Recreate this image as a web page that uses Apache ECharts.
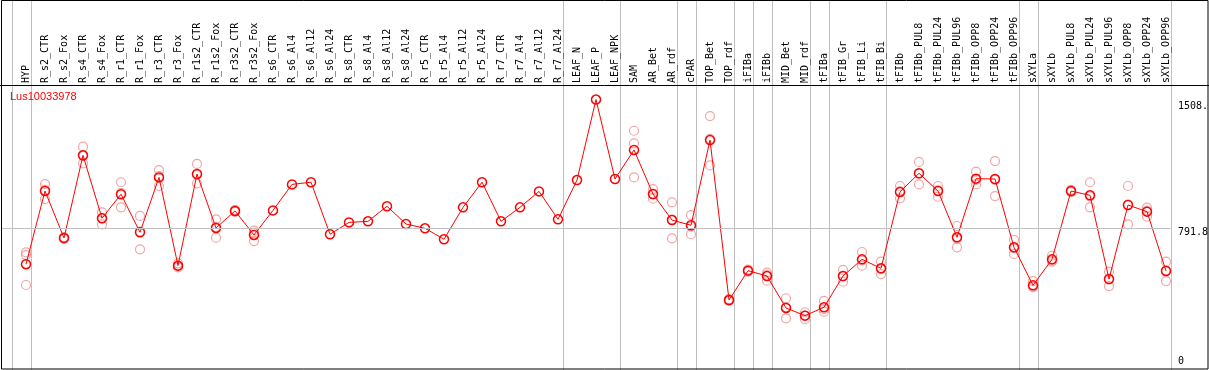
<!DOCTYPE html>
<html><head><meta charset="utf-8">
<script src="https://cdn.jsdelivr.net/npm/echarts@6/dist/echarts.min.js"></script>
<style>html,body{margin:0;padding:0;background:#fff}#c{width:1209px;height:370px}</style>
</head><body><div id="c"></div>
<script>
const geneName = 'Lus10033978';
const categories = ['HYP','R_s2_CTR','R_s2_Fox','R_s4_CTR','R_s4_Fox','R_r1_CTR','R_r1_Fox','R_r3_CTR','R_r3_Fox','R_r1s2_CTR','R_r1s2_Fox','R_r3s2_CTR','R_r3s2_Fox','R_s6_CTR','R_s6_Al4','R_s6_Al12','R_s6_Al24','R_s8_CTR','R_s8_Al4','R_s8_Al12','R_s8_Al24','R_r5_CTR','R_r5_Al4','R_r5_Al12','R_r5_Al24','R_r7_CTR','R_r7_Al4','R_r7_Al12','R_r7_Al24','LEAF_N','LEAF_P','LEAF_NPK','SAM','AR_Bet','AR_rdf','cPAR','TOP_Bet','TOP_rdf','iFIBa','iFIBb','MID_Bet','MID_rdf','tFIBa','tFIB_Gr','tFIB_Li','tFIB_Bi','tFIBb','tFIBb_PUL8','tFIBb_PUL24','tFIBb_PUL96','tFIBb_OPP8','tFIBb_OPP24','tFIBb_OPP96','sXYLa','sXYLb','sXYLb_PUL8','sXYLb_PUL24','sXYLb_PUL96','sXYLb_OPP8','sXYLb_OPP24','sXYLb_OPP96'];
const means = [590,998,736,1197,846,980,768,1074,582,1093,792,887,753,890,1035,1047,757,823,829,913,814,790,729,907,1047,829,907,996,840,1059,1508,1065,1227,981,836,807,1282,390,554,524,346,303,350,524,617,567,993,1097,998,740,1067,1065,684,472,617,998,974,507,920,883,552];
const rep1 = [656,1037,741,1245,879,1047,859,1115,595,1149,840,893,777,null,null,null,null,null,null,null,null,null,null,null,null,null,null,null,null,null,null,null,1334,1009,935,864,1416,395,560,543,400,322,385,558,658,604,1026,1160,1026,803,1106,1165,725,496,637,1004,1047,548,1026,905,604];
const rep2 = [641,953,731,1152,812,907,673,1026,572,1041,738,881,719,null,null,null,null,null,null,null,null,null,null,null,null,null,null,null,null,null,null,null,1264,955,734,757,1141,385,548,498,288,283,325,492,582,535,957,1035,966,684,1035,970,647,465,604,992,907,468,812,855,496];
const rep3 = [474,1004,736,1194,847,986,772,1081,579,1089,798,887,763,null,null,null,null,null,null,null,null,null,null,null,null,null,null,null,null,null,null,null,1074,979,839,800,1289,390,554,531,350,304,340,522,611,562,996,1096,1002,733,1060,1060,680,462,610,998,968,505,922,889,556];
const groupBreaksAfter = [-1,0,28,31,34,35,37,38,39,41,42,45,52,53,60];
const yTickValues = [1508, 791.8, 0];
const yTickLabels = ['1508.', '791.8', '0'];
const yMax = 1583.6;
const gridLine = 791.8;

// layout
const SLOT = 19, FIRST_X = 26, LEFT = 1, WIDTH = 1207;
const xMin = -(FIRST_X - LEFT) / SLOT;
const xMax = xMin + WIDTH / SLOT;
const breakOffset = 0.24;
const labelDy = [7, 4, -8.5];

const repData = [];
[rep1, rep2, rep3].forEach(r => r.forEach((v, i) => { if (v != null) repData.push([i, v]); }));
const meanData = means.map((v, i) => [i, v]);

const chart = echarts.init(document.getElementById('c'), null, {renderer: 'canvas'});
const grey = '#c0c0c0';
const lastBreak = groupBreaksAfter[groupBreaksAfter.length - 1] + breakOffset;
chart.setOption({
  animation: false,
  backgroundColor: '#fff',
  title: {text: geneName, left: 10, top: 91, padding: 0, textStyle: {color: '#ff0000', fontSize: 11, fontWeight: 'normal', fontFamily: 'Liberation Sans'}},
  grid: [
    {left: LEFT, width: WIDTH, top: 86, height: 284},
    {left: FIRST_X - SLOT / 2, width: SLOT * categories.length, top: 86, height: 284}
  ],
  xAxis: [
    {type: 'value', gridIndex: 0, min: xMin, max: xMax, show: false},
    {type: 'category', gridIndex: 1, position: 'top', data: categories, boundaryGap: true,
     axisLine: {show: false}, axisTick: {show: false}, splitLine: {show: false},
     axisLabel: {interval: 0, rotate: 90, margin: 3, fontFamily: 'DejaVu Sans Mono', fontSize: 10, color: '#000'}}
  ],
  yAxis: [
    {type: 'value', gridIndex: 0, min: 0, max: yMax, show: false},
    {type: 'value', gridIndex: 1, min: 0, max: yMax, show: false}
  ],
  series: [
    {type: 'line', xAxisIndex: 0, yAxisIndex: 0, data: [], z: 1, silent: true,
     markLine: {silent: true, symbol: 'none', animation: false, label: {show: false},
       lineStyle: {color: grey, width: 1, type: 'solid'}, emphasis: {disabled: true},
       data: [[{coord: [xMin, gridLine]}, {coord: [lastBreak, gridLine]}]]}},
    {type: 'scatter', xAxisIndex: 0, yAxisIndex: 0, data: repData, z: 2, silent: true,
     symbol: 'circle', symbolSize: 9,
     itemStyle: {color: 'rgba(0,0,0,0)', borderColor: '#ee9090', borderWidth: 1.2}},
    {type: 'line', xAxisIndex: 0, yAxisIndex: 0, data: meanData, z: 3, silent: true,
     symbol: 'circle', symbolSize: 9, showAllSymbol: true,
     lineStyle: {color: '#ff0000', width: 1},
     itemStyle: {color: 'rgba(0,0,0,0)', borderColor: '#ff0000', borderWidth: 1.5}}
  ]
});

const gfx = [];
groupBreaksAfter.forEach(b => {
  const px = Math.round(chart.convertToPixel({xAxisIndex: 0}, b + breakOffset)) + 0.5;
  gfx.push({type: 'line', shape: {x1: px, y1: 0, x2: px, y2: 370}, style: {stroke: grey, lineWidth: 1}, z: 0, silent: true});
});
gfx.push(
  {type: 'rect', shape: {x: 1.5, y: 0.5, width: 1206.5, height: 368.5}, style: {fill: 'none', stroke: '#000', lineWidth: 1}, z: 100, silent: true},
  {type: 'line', shape: {x1: 0, y1: 85.5, x2: 1209, y2: 85.5}, style: {stroke: '#000', lineWidth: 1}, z: 100, silent: true}
);
yTickValues.forEach((v, k) => {
  const py = chart.convertToPixel({yAxisIndex: 0}, v);
  gfx.push({type: 'text', x: 1178, y: py + labelDy[k], z: 100, silent: true,
    style: {text: yTickLabels[k], fill: '#000', font: '10px "DejaVu Sans Mono"', textAlign: 'left', textVerticalAlign: 'middle'}});
});
chart.setOption({graphic: gfx});
</script>
</body></html>
